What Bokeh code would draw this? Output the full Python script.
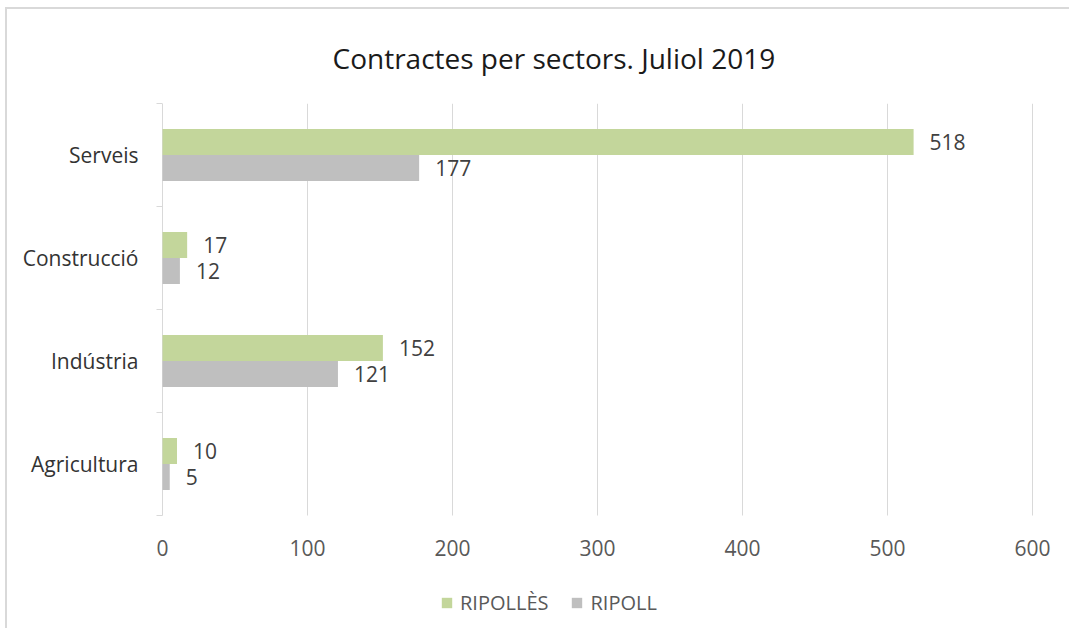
from bokeh.plotting import figure
from bokeh.models import ColumnDataSource, FixedTicker, Range1d, Legend, LegendItem
from bokeh.transform import dodge
from bokeh.core.properties import value
from bokeh.embed import file_html
from bokeh.resources import INLINE

# ---- data (bottom to top) ----
categories = ["Agricultura", "Indústria", "Construcció", "Serveis"]
ripolles = [10, 152, 17, 518]
ripoll = [5, 121, 12, 177]
x_ticks = [0, 100, 200, 300, 400, 500, 600]
series_names = ["RIPOLLÈS", "RIPOLL"]
title_text = "Contractes per sectors. Juliol 2019"

FONT = "Open Sans"
GREEN = "#C3D69B"
GRAY = "#BFBFBF"
GRID = "#D9D9D9"
AXIS_TXT = "#595959"
CAT_TXT = "#333333"
LABEL_TXT = "#404040"

n = len(categories)
pos = [i + 0.5 for i in range(n)]
src = ColumnDataSource(dict(
    y=pos, cat=categories, ripolles=ripolles, ripoll=ripoll,
    ripolles_lbl=[str(v) for v in ripolles], ripoll_lbl=[str(v) for v in ripoll],
))
grid_src = ColumnDataSource(dict(x=x_ticks, y0=[0] * len(x_ticks), y1=[n] * len(x_ticks)))

# layout (pixels)
PX_PER_UNIT = 870 / 600
PAD_L, PAD_R = 6, 20          # room so the first/last tick labels are not clipped
CAT_PX, EXTRA_PX = 412, 113   # category area, and space below for tick labels + legend
x_lo = -PAD_L / PX_PER_UNIT
x_hi = x_ticks[-1] + PAD_R / PX_PER_UNIT
y_lo = -n * EXTRA_PX / CAT_PX

p = figure(frame_width=870 + PAD_L + PAD_R, frame_height=CAT_PX + EXTRA_PX,
           output_backend="svg", toolbar_location=None,
           x_range=Range1d(x_lo, x_hi), y_range=Range1d(y_lo, n),
           min_border_left=155 - PAD_L, min_border_right=37 - PAD_R,
           min_border_top=94, min_border_bottom=0)
p.styles = {"border-left": "2px solid #D9D9D9", "border-top": "2px solid #D9D9D9",
            "margin-left": "5px", "margin-top": "7px"}
p.outline_line_color = None
p.background_fill_color = "white"
p.border_fill_color = "white"

# title
p.title.text = title_text
p.title.text_font = FONT
p.title.text_font_size = "28px"
p.title.text_font_style = "normal"
p.title.text_color = "#1a1a1a"
p.title.align = "left"
p.title.offset = 170 + PAD_L
p.title.standoff = 54

# vertical grid lines (limited to the category area); the one at 0 is the axis line
p.grid.visible = False
p.segment(x0="x", y0="y0", x1="x", y1="y1", source=grid_src, line_color=GRID, line_width=1)

# bars
r1 = p.hbar(y=dodge("y", 0.126, range=p.y_range), right="ripolles", left=0, height=0.252,
            source=src, fill_color=GREEN, line_color=None)
r2 = p.hbar(y=dodge("y", -0.126, range=p.y_range), right="ripoll", left=0, height=0.252,
            source=src, fill_color=GRAY, line_color=None)

# value labels
p.text(x="ripolles", y=dodge("y", 0.126, range=p.y_range), text="ripolles_lbl", source=src,
       x_offset=16, text_baseline="middle", text_align="left",
       text_font=value(FONT), text_font_size="21px", text_color=LABEL_TXT)
p.text(x="ripoll", y=dodge("y", -0.126, range=p.y_range), text="ripoll_lbl", source=src,
       x_offset=16, text_baseline="middle", text_align="left",
       text_font=value(FONT), text_font_size="21px", text_color=LABEL_TXT)

# x axis (drawn at y = 0, the bottom of the category area)
p.xaxis.fixed_location = 0
p.xaxis.ticker = FixedTicker(ticks=x_ticks)
p.xaxis.axis_line_color = None
p.xaxis.major_tick_line_color = None
p.xaxis.minor_tick_line_color = None
p.xaxis.major_tick_out = 0
p.xaxis.major_tick_in = 0
p.xaxis.major_label_standoff = 24
p.xaxis.major_label_text_font = FONT
p.xaxis.major_label_text_font_size = "21px"
p.xaxis.major_label_text_color = AXIS_TXT

# y axis: labels at category centres, short tick marks at category boundaries
p.yaxis.bounds = (0, n)
p.yaxis.ticker = FixedTicker(ticks=pos, minor_ticks=list(range(n + 1)))
p.yaxis.major_label_overrides = {float(y): c for y, c in zip(pos, categories)}
p.yaxis.axis_line_color = None
p.yaxis.major_tick_line_color = None
p.yaxis.major_tick_out = 0
p.yaxis.major_tick_in = 0
p.yaxis.minor_tick_line_color = GRID
p.yaxis.minor_tick_out = 0
p.yaxis.minor_tick_in = PAD_L
p.yaxis.major_label_standoff = 18
p.yaxis.major_label_text_font = FONT
p.yaxis.major_label_text_font_size = "21px"
p.yaxis.major_label_text_color = CAT_TXT

# legend (inside the plot area, below the tick labels)
legend = Legend(items=[LegendItem(label=series_names[0], renderers=[r1]),
                       LegendItem(label=series_names[1], renderers=[r2])],
                orientation="horizontal", location=(278 + PAD_L, 12))
legend.padding = 0
legend.margin = 0
legend.spacing = 22
legend.glyph_width = 13
legend.glyph_height = 13
legend.label_standoff = 7
legend.label_text_font = FONT
legend.label_text_font_size = "20px"
legend.label_text_baseline = "alphabetic"
legend.label_text_color = AXIS_TXT
legend.border_line_color = None
legend.background_fill_alpha = 0
p.add_layout(legend, "center")

open("out.html", "w").write(file_html(p, INLINE))
